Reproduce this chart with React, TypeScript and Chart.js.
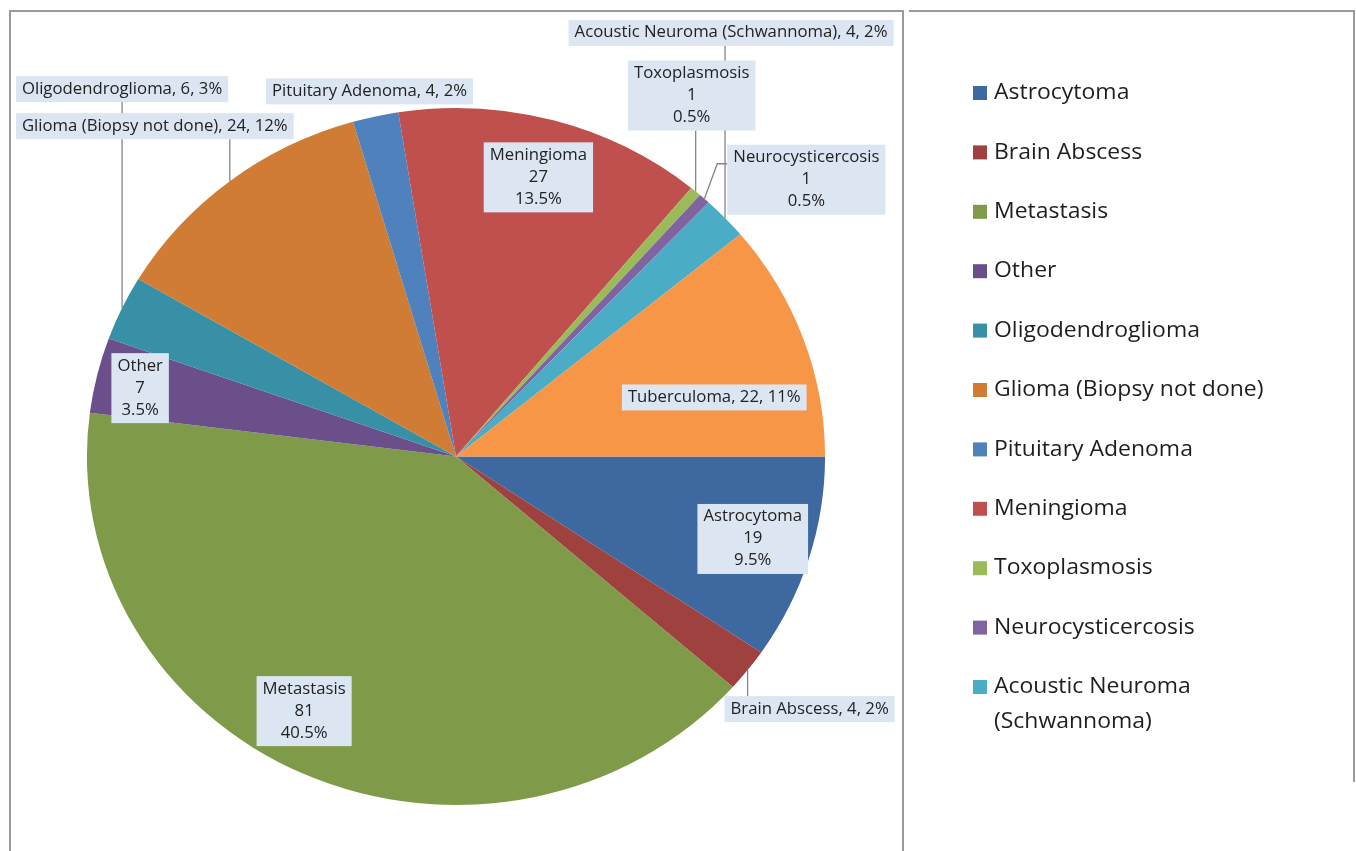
import React, { useEffect, useRef } from "react";
import { Chart, registerables } from "chart.js";

Chart.register(...registerables);

// ---- data ----
const categories = [
  "Astrocytoma",
  "Brain Abscess",
  "Metastasis",
  "Other",
  "Oligodendroglioma",
  "Glioma (Biopsy not done)",
  "Pituitary Adenoma",
  "Meningioma",
  "Toxoplasmosis",
  "Neurocysticercosis",
  "Acoustic Neuroma (Schwannoma)",
  "Tuberculoma",
];
const counts = [19, 4, 81, 7, 6, 24, 4, 27, 1, 1, 4, 22];
const legendCategories = categories.slice(0, 11);

// ---- styles ----
const colors = [
  "#3E69A0",
  "#9F413E",
  "#7F9A48",
  "#6A4F8A",
  "#3790A6",
  "#D07C35",
  "#4F81BD",
  "#C0504D",
  "#9BBB59",
  "#8064A2",
  "#4BACC6",
  "#F79646",
];
// label style: stacked (3 lines) or inline ("name, n, pct")
const labelStyle = ["stack", "inline", "stack", "stack", "inline", "inline", "inline", "stack", "stack", "stack", "inline", "inline"];
// box centre offset from the arc's outer mid point
const labelDx = [-56, 62, 0, 43, 0, -75, -6, -15, -4, 102, 6, -89];
const labelDy = [-20, 39, -63, 13, -219, -55, -25, 57, -96, -19, -185, 59];
const leaderType = ["none", "vertical", "none", "none", "vertical", "vertical", "none", "none", "vertical", "elbow", "vertical", "none"];

const SX = 1.059; // horizontal stretch of the reference image
const LABEL_FONT = '15.8px "Open Sans"';
const LEGEND_FONT = '21.7px "Open Sans"';

const total = counts.reduce((a, b) => a + b, 0);
const pct = (v: number) => `${+((v / total) * 100).toFixed(1)}%`;

function stretchedText(ctx: CanvasRenderingContext2D, text: string, x: number, y: number, align: CanvasTextAlign) {
  ctx.save();
  ctx.translate(x, y);
  ctx.scale(SX, 1);
  ctx.textAlign = align;
  ctx.fillText(text, 0, 0);
  ctx.restore();
}

const framePlugin = {
  id: "frame",
  beforeDraw(chart: any) {
    const ctx = chart.ctx;
    ctx.save();
    ctx.strokeStyle = "#9a9a9a";
    ctx.lineWidth = 2;
    ctx.beginPath();
    ctx.moveTo(10, 851);
    ctx.lineTo(10, 11);
    ctx.lineTo(903, 11);
    ctx.lineTo(903, 851);
    ctx.moveTo(909, 11);
    ctx.lineTo(1354, 11);
    ctx.lineTo(1354, 782);
    ctx.stroke();
    ctx.restore();
  },
};

const ellipsePlugin = {
  id: "ellipse",
  beforeDatasetsDraw(chart: any) {
    const arc = chart.getDatasetMeta(0).data[0];
    const ctx = chart.ctx;
    ctx.save();
    ctx.translate(arc.x, 0);
    ctx.scale(SX, 1);
    ctx.translate(-arc.x, 0);
  },
  afterDatasetsDraw(chart: any) {
    chart.ctx.restore();
  },
};

const labelsPlugin = {
  id: "sliceLabels",
  afterDraw(chart: any) {
    const ctx = chart.ctx;
    const meta = chart.getDatasetMeta(0);
    ctx.save();
    ctx.font = LABEL_FONT;
    const boxes: any[] = [];
    meta.data.forEach((arc: any, i: number) => {
      const { x, y, startAngle, endAngle, outerRadius } = arc.getProps(
        ["x", "y", "startAngle", "endAngle", "outerRadius"],
        true
      );
      const mid = (startAngle + endAngle) / 2;
      const ex = x + outerRadius * SX * Math.cos(mid);
      const ey = y + outerRadius * Math.sin(mid);
      const lines =
        labelStyle[i] === "stack"
          ? [categories[i], String(counts[i]), pct(counts[i])]
          : [`${categories[i]}, ${counts[i]}, ${pct(counts[i])}`];
      const lineH = 22;
      const w = Math.max(...lines.map((l) => ctx.measureText(l).width)) * SX + 12;
      const h = lines.length * lineH + 4;
      const cx = ex + labelDx[i];
      const cy = ey + labelDy[i];
      boxes.push({ i, ex, ey, lines, lineH, w, h, cx, cy, left: cx - w / 2, top: cy - h / 2 });
    });
    // leader lines
    ctx.strokeStyle = "#858585";
    ctx.lineWidth = 1.3;
    boxes.forEach((b) => {
      const t = leaderType[b.i];
      if (t === "none") return;
      ctx.beginPath();
      if (t === "vertical") {
        const edgeY = b.cy < b.ey ? b.top + b.h : b.top;
        ctx.moveTo(b.ex, b.ey);
        ctx.lineTo(b.ex, edgeY);
      } else {
        const ay = b.top + 19;
        ctx.moveTo(b.ex, b.ey);
        ctx.lineTo(b.left - 10, ay);
        ctx.lineTo(b.left, ay);
      }
      ctx.stroke();
    });
    // boxes + text
    boxes.forEach((b) => {
      ctx.fillStyle = "#DCE6F2";
      ctx.fillRect(b.left, b.top, b.w, b.h);
      ctx.fillStyle = "#222222";
      ctx.textBaseline = "middle";
      b.lines.forEach((l: string, k: number) => {
        stretchedText(ctx, l, b.cx, b.top + 2 + b.lineH * (k + 0.5), "center");
      });
    });
    ctx.restore();
  },
};

const legendPlugin = {
  id: "sideLegend",
  afterDraw(chart: any) {
    const ctx = chart.ctx;
    ctx.save();
    ctx.font = LEGEND_FONT;
    ctx.textBaseline = "middle";
    const x0 = 973;
    const y0 = 93;
    const step = 59.4;
    const maxW = 310;
    legendCategories.forEach((name, i) => {
      const y = y0 + i * step;
      ctx.fillStyle = colors[i];
      ctx.fillRect(x0, y - 7, 14, 14);
      const words = name.split(" ");
      const lines: string[] = [];
      let cur = "";
      words.forEach((w) => {
        const test = cur ? cur + " " + w : w;
        if (ctx.measureText(test).width * SX > maxW && cur) {
          lines.push(cur);
          cur = w;
        } else cur = test;
      });
      if (cur) lines.push(cur);
      ctx.fillStyle = "#1e1e1e";
      lines.forEach((l, k) => stretchedText(ctx, l, x0 + 21, y + k * 35, "left"));
    });
    ctx.restore();
  },
};

export default function App() {
  const ref = useRef<HTMLCanvasElement | null>(null);
  useEffect(() => {
    if (!ref.current) return;
    const chart = new Chart(ref.current, {
      type: "pie",
      data: {
        labels: categories,
        datasets: [
          {
            data: counts,
            backgroundColor: colors,
            borderWidth: 0,
            hoverOffset: 0,
            offset: 0,
            clip: false,
          } as any,
        ],
      },
      options: {
        responsive: false,
        animation: false,
        events: [],
        rotation: 90,
        radius: 348.5,
        layout: { padding: { left: 107.5, right: 551.5, top: 108, bottom: 46 } },
        plugins: {
          legend: { display: false },
          tooltip: { enabled: false },
          title: { display: false },
        },
      } as any,
      plugins: [framePlugin, ellipsePlugin, labelsPlugin, legendPlugin],
    });
    return () => chart.destroy();
  }, []);
  return (
    <div style={{ position: "absolute", left: 0, top: 0, width: 1356, height: 851, background: "#fff" }}>
      <canvas ref={ref} width={1356} height={851} style={{ display: "block" }} />
    </div>
  );
}
